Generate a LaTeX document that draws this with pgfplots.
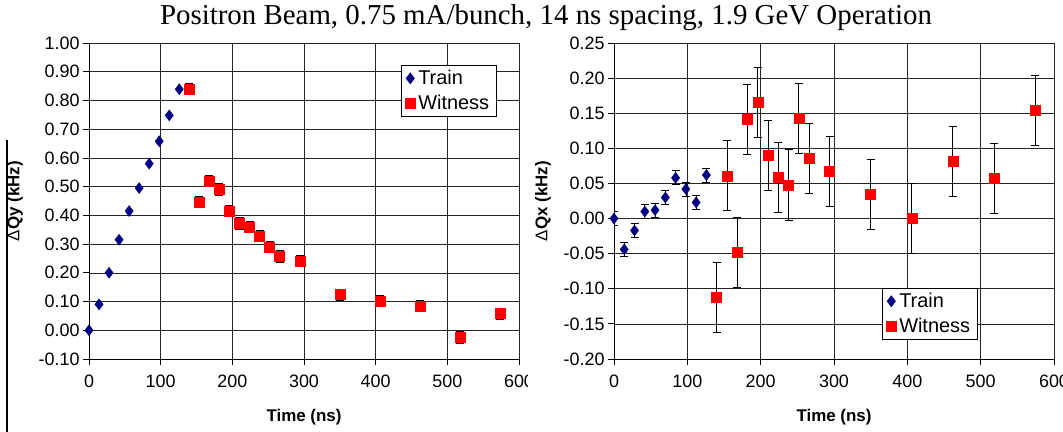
\documentclass[border=0pt]{standalone}
\usepackage{pgfplots}
\pgfplotsset{compat=1.18}
\usepackage{pgfplotstable}
\usepackage{fontspec}
\setmainfont{Liberation Sans}
\newfontfamily\titlefont{Liberation Serif}

\definecolor{trainblue}{RGB}{0,0,128}
\definecolor{witnessred}{RGB}{255,0,0}

% Tune shift measurements (time in ns, shift in kHz, error in kHz)
\pgfplotstableread{
t   v
0   0.000
14  0.090
28  0.200
42  0.315
56  0.415
70  0.495
84  0.580
98  0.658
112 0.748
126 0.839
}\trainy
\pgfplotstableread{
t   v      e
140 0.840  0.02
154 0.447  0.02
168 0.520  0.02
182 0.491  0.02
196 0.416  0.02
210 0.372  0.02
224 0.360  0.02
238 0.329  0.02
252 0.290  0.02
266 0.258  0.02
294 0.241  0.02
350 0.124  0.02
406 0.102  0.02
462 0.085  0.02
518 -0.025 0.02
574 0.058  0.02
}\witnessy
\pgfplotstableread{
t   v       e
0   0.000   0.010
14  -0.044  0.010
28  -0.017  0.010
42  0.010   0.010
56  0.012   0.010
70  0.030   0.010
84  0.058   0.010
98  0.042   0.010
112 0.023   0.010
126 0.062   0.010
}\trainx
\pgfplotstableread{
t   v       e
140 -0.112  0.05
154 0.061   0.05
168 -0.048  0.05
182 0.141   0.05
196 0.165   0.05
210 0.090   0.05
224 0.059   0.05
238 0.048   0.05
252 0.143   0.05
266 0.086   0.05
294 0.067   0.05
350 0.034   0.05
406 0.000   0.05
462 0.082   0.05
518 0.057   0.05
574 0.154   0.05
}\witnessx

\pgfplotsset{
  tunechart/.style={
    scale only axis, height=316bp,
    axis lines=left, axis line style={-, black, line width=0.8bp},
    xmin=0, xmax=600, xtick={0,100,...,600},
    grid=major, grid style={black!85, line width=0.6bp},
    tick align=outside, major tick length=6bp,
    tick style={black, line width=0.8bp},
    tick label style={font=\fontsize{18}{20}\selectfont},
    xticklabel style={yshift=-6bp},
    /pgf/number format/assume math mode=true,
    scaled y ticks=false,
    yticklabel style={/pgf/number format/.cd, fixed, fixed zerofill, precision=2},
    xlabel style={at={(axis description cs:0.5,0)}, anchor=center, yshift=-58bp},
    ylabel style={at={(axis description cs:0,0.5)}, anchor=center},
    label style={font=\fontsize{17}{19}\selectfont\bfseries},
    legend style={draw=black, line width=0.6bp,
      font=\fontsize{20}{22}\selectfont, anchor=north west,
      inner xsep=4bp, inner ysep=3bp, row sep=5bp,
      nodes={inner xsep=3bp}},
    legend cell align=left,
  },
  train/.style={only marks, mark=diamond*, mark size=5.5bp, color=trainblue},
  witness/.style={only marks, mark=square*, mark size=5bp, color=witnessred},
  ebars/.style={error bars/.cd, y dir=both, y explicit,
    error bar style={black, line width=0.7bp},
    error mark options={rotate=90, black, mark size=4bp, line width=0.7bp}},
}

\begin{document}
\begin{tikzpicture}
\useasboundingbox (0bp,0bp) rectangle (1063bp,432bp);

% left panel: vertical tune shift
\begin{axis}[tunechart, at={(89bp,73bp)}, anchor=south west, width=430bp,
  ymin=-0.10, ymax=1.00, ytick={-0.1,0,...,1.0},
  xlabel={Time (ns)},
  ylabel={{\mdseries Δ}Qy (kHz)},
  ylabel style={yshift=74bp},
  legend style={at={(axis description cs:0.7256,0.930)}}]
\addplot[train] table[x=t, y=v] {\trainy};
\addlegendentry{Train}
\addplot[witness, ebars] table[x=t, y=v, y error=e] {\witnessy};
\addlegendentry{Witness}
\end{axis}

% the right panel's background hides the end of the last left tick label
\fill[white] (528bp,25bp) rectangle (545bp,62bp);

% right panel: horizontal tune shift
\begin{axis}[tunechart, at={(614bp,73bp)}, anchor=south west, width=440bp,
  ymin=-0.20, ymax=0.25, ytick={-0.2,-0.15,...,0.26},
  xlabel={Time (ns)},
  ylabel={{\mdseries Δ}Qx (kHz)},
  ylabel style={yshift=71bp},
  legend style={at={(axis description cs:0.609,0.2247)}}]
\addplot[train, ebars] table[x=t, y=v, y error=e] {\trainx};
\addlegendentry{Train}
\addplot[witness, ebars] table[x=t, y=v, y error=e] {\witnessx};
\addlegendentry{Witness}
\end{axis}

\draw[black, line width=1.5bp] (7bp,0bp) -- (7bp,292bp);
\node[font=\titlefont\fontsize{29}{32}\selectfont] at (546bp,414bp)
  {Positron Beam, 0.75 mA/bunch, 14 ns spacing, 1.9 GeV Operation};
\end{tikzpicture}
\end{document}
